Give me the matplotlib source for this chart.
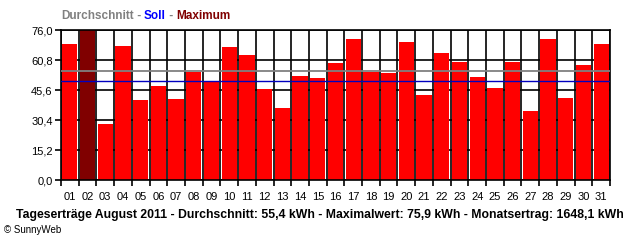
import matplotlib
matplotlib.use("Agg")
import matplotlib.pyplot as plt
import numpy as np

plt.rcParams['font.family'] = ['Liberation Sans Narrow', 'Liberation Sans', 'DejaVu Sans']

days = ['%02d' % d for d in range(1, 32)]
ertrag = [69.0, 75.9, 28.5, 68.0, 40.7, 47.8, 41.2, 54.5, 50.1, 67.5,
          63.5, 46.2, 36.6, 52.8, 51.8, 59.4, 71.4, 54.7, 54.0, 70.1,
          43.2, 64.5, 59.9, 52.3, 46.8, 59.9, 35.1, 71.4, 41.7, 58.4, 69.0]
durchschnitt = 55.4
soll = 50.1
y_ticks = [0.0, 15.2, 30.4, 45.6, 60.8, 76.0]

fig = plt.figure(figsize=(6.4, 2.4), dpi=100)
ax = fig.add_axes([61/640, 60/240, 549/640, 150/240])

x = np.arange(len(days))
colors = ['#800000' if v == max(ertrag) else '#FF0000' for v in ertrag]
ax.bar(x, ertrag, width=0.86, color=colors, zorder=2)

# grid: vertical lines between days, horizontal at ticks
for b in np.arange(-0.5, len(days), 1.0):
    ax.axvline(b, color='black', lw=1.2, zorder=1)
for t in y_ticks:
    ax.axhline(t, color='black', lw=1.2, zorder=1)

ax.axhline(durchschnitt, color='#808080', lw=1.3, zorder=3)
ax.axhline(soll, color='#0000C0', lw=1.0, zorder=3)

ax.set_xlim(-0.5, len(days) - 0.5)
ax.set_ylim(0, 76.0)
ax.set_yticks(y_ticks)
ax.set_yticklabels([('%.1f' % t).replace('.', ',') for t in y_ticks], fontsize=8)
ax.set_xticks(x)
ax.set_xticklabels(days, fontsize=8)
ax.set_xticks(np.arange(-0.5, len(days), 1.0), minor=True)
ax.tick_params(axis='x', which='major', length=0, pad=8.5)
ax.tick_params(axis='x', which='minor', length=4.5, width=1.2)
ax.tick_params(axis='y', length=4, width=1.2, pad=2)
for s in ax.spines.values():
    s.set_linewidth(1.2)

# top legend text
fig.text(61/640, 1 - 16/240, 'Durchschnitt', color='#808080', fontsize=8.5,
         fontweight='bold', va='center', family=['Liberation Sans', 'DejaVu Sans'])
parts = [(' - ', '#808080'), ('Soll', '#0000FF'), (' - ', '#808080'), ('Maximum', '#800000')]
r = fig.canvas.get_renderer()
prev = fig.texts[-1]
for txt, col in parts:
    bb = prev.get_window_extent(renderer=r)
    prev = fig.text(bb.x1 / 640, 1 - 16/240, txt, color=col, fontsize=8.5,
                    fontweight='bold', va='center', family=['Liberation Sans', 'DejaVu Sans'])

fig.text(320/640, 1 - 215/240,
         'Tageserträge August 2011 - Durchschnitt: 55,4 kWh - Maximalwert: 75,9 kWh - Monatsertrag: 1648,1 kWh',
         ha='center', va='center', fontsize=8.8, fontweight='bold')
fig.text(4/640, 1 - 230/240, '© SunnyWeb', ha='left', va='center', fontsize=7)

fig.savefig('out.png', dpi=100)
